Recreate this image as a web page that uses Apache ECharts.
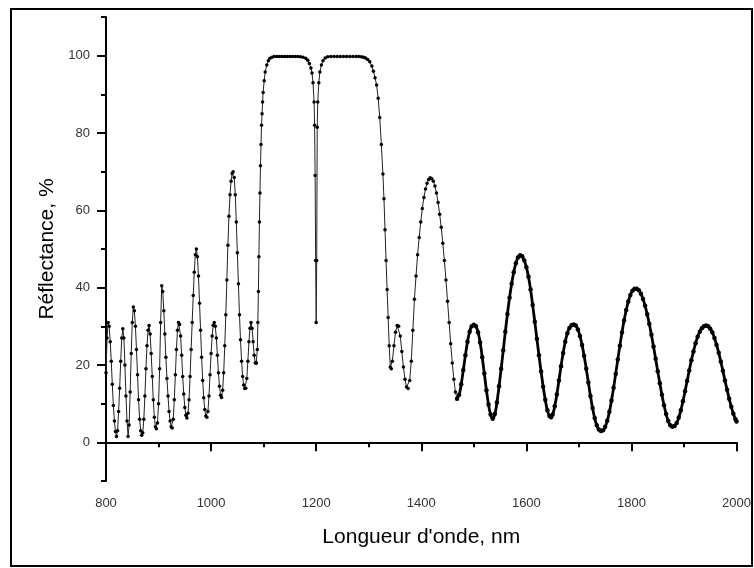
<!DOCTYPE html>
<html>
<head>
<meta charset="utf-8">
<script src="https://cdn.jsdelivr.net/npm/echarts@6/dist/echarts.min.js"></script>
<style>
	html, body {margin: 0; padding: 0; background: #fff;}
	#chart {width: 754px; height: 568px;}
</style>
</head>
<body>
<div id="chart"></div>
<script>
// [wavelength nm, reflectance %]
var shortSide = [
	[800,18],[802,27],[804,31],[806,30],[808,26],[810,21],[812,15],[814,9.5],[816,5.5],[818,2.8],[820,1.5],
	[822,3],[824,8],[826,14],[828,21],[830,27],[832,29.4],[834,27],[836,20],[838,12],[840,5.5],[842,1.5],
	[844,4.5],[846,13],[848,23],[850,31],[852,35],[854,34],[856,30],[858,24],[860,17.5],[862,11],[864,6],[866,3],[868,1.8],
	[870,2.5],[872,6],[874,12],[876,19],[878,25],[880,29],[882,30.2],[884,28],[886,23],[888,17],[890,11],[892,6.5],[894,4],[896,3.5],
	[898,5],[900,10],[902,19],[904,31],[906,40.5],[908,39],[910,34],[912,28],[914,22],[916,16.5],[918,12],[920,8],[922,5.5],[924,4],[926,3.7],
	[928,6],[930,11],[932,17.5],[934,24],[936,29],[938,31],[940,30.5],[942,27.5],[944,22.5],[946,17],[948,12.5],[950,9],[952,7],[954,6.3],
	[956,7.5],[958,11],[960,17],[962,24],[964,31],[966,38],[968,44],[970,48.5],[972,50],[974,48],[976,43],[978,36],[980,29],[982,22],[984,16],[986,11.5],[988,8.5],[990,6.8],[992,6.5],
	[994,8],[996,12],[998,17.5],[1000,23],[1002,27.5],[1004,30.3],[1006,31],[1008,30],[1010,27],[1012,22.5],[1014,18],[1016,14.5],[1018,12.2],[1020,11.6],
	[1022,13.5],[1024,18],[1026,25],[1028,33],[1030,42],[1032,51],[1034,58.5],[1036,64],[1038,67.5],[1040,69.5],[1042,70],[1044,68.5],[1046,64],[1048,57],[1050,49],[1052,41],[1054,33],[1056,26.5],[1058,21],[1060,17],[1062,14.8],[1064,13.9],[1066,14],
	[1068,16.5],[1070,21],[1072,26],[1074,29.5],[1076,31],[1078,29.5],[1080,26],[1082,22.5],[1084,20.5],[1086,20.5]
];

var stopBand = [
	[1086,20.5],[1088,24],[1089,31],[1090,39],[1091,48],[1092,57],[1093,64.5],[1094,71.5],[1095,77],[1096,82],[1097,85],[1098,88],[1099,90.5],
	[1101,93.5],[1103,95.8],[1106,97.6],[1109,98.7],[1112,99.3],[1116,99.6],[1120,99.8],[1125,99.8],[1130,99.8],[1135,99.8],[1140,99.8],[1145,99.8],
	[1150,99.8],[1155,99.8],[1160,99.8],[1165,99.8],[1170,99.7],[1175,99.6],[1180,99.3],[1184,98.8],[1187,98],[1190,96.8],[1192,95.5],[1194,93],
	[1196,88],[1197,82],[1198,69],[1199,47],[1200,31],[1201,47],[1202,81.5],[1203,88],[1205,93],[1207,95.8],[1210,97.6],[1213,98.7],[1217,99.4],
	[1222,99.7],[1228,99.8],[1234,99.8],[1240,99.8],[1246,99.8],[1252,99.8],[1258,99.8],[1264,99.8],[1270,99.8],[1276,99.8],[1281,99.8],[1286,99.7],
	[1290,99.6],[1294,99.4],[1298,99],[1302,98.4],[1306,97.3],[1309,96],[1312,94.3],[1315,92.4],[1318,89],[1321,84],[1324,77],[1327,69.4],
	[1329,63],[1331,55],[1333,47],[1335,39.5],[1337,32.3],[1339,25],[1341,19.5],[1343,19],[1345,21],[1348,25],[1351,28.5],[1354,30.2],[1357,30],
	[1360,27.5],[1363,23.5],[1366,19.5],[1369,16.3],[1372,14.3],[1375,13.9],[1378,16],[1381,21],[1384,29],[1387,37],[1390,43],[1393,48.5],
	[1396,53],[1399,57],[1402,60.5],[1405,63.3],[1408,65.5],[1411,67],[1414,68],[1417,68.4],[1420,68.2],[1423,67.5],[1426,66.3],[1429,64.5],
	[1432,62],[1435,59],[1438,55.6],[1441,51.5],[1444,47],[1447,42],[1450,36.5],[1453,31],[1456,25.5],[1459,20.5],[1462,16.3],[1465,13],[1468,11.3]
];

var longSide = [
	[1468,11.3],[1472,12.3],[1476,15],[1480,18.7],[1484,22.5],[1488,26],[1492,28.6],[1496,30],[1500,30.4],
	[1504,30],[1508,28.5],[1512,25.8],[1516,22],[1520,17.8],[1524,13.5],[1528,9.8],[1532,7.2],[1536,6.1],
	[1540,7.3],[1544,10.3],[1548,14.5],[1552,19],[1556,23.8],[1560,28.6],[1564,33.2],[1568,37.4],[1572,41],[1576,44],[1580,46.3],[1584,47.8],[1588,48.4],
	[1592,48.1],[1596,47],[1600,45.3],[1604,42.8],[1608,39.5],[1612,35.5],[1616,31.2],[1620,26.8],[1624,22.5],[1628,18.3],[1632,14.4],[1636,11],[1640,8.3],[1644,6.8],[1647,6.5],
	[1650,7.2],[1654,9.3],[1658,12.4],[1662,16],[1666,19.7],[1670,23.1],[1674,26],[1678,28.2],[1682,29.6],[1686,30.3],[1690,30.5],
	[1694,30.2],[1698,29.2],[1702,27.5],[1706,25.2],[1710,22.3],[1714,19],[1718,15.5],[1722,12],[1726,8.9],[1730,6.3],[1734,4.4],[1738,3.3],[1742,2.9],[1746,3.1],
	[1750,4],[1754,5.6],[1758,7.9],[1762,10.8],[1766,14.1],[1770,17.7],[1774,21.4],[1778,25],[1782,28.4],[1786,31.5],[1790,34.2],[1794,36.4],[1798,38.1],[1802,39.2],[1806,39.7],[1810,39.7],
	[1814,39.3],[1818,38.4],[1822,37.1],[1826,35.3],[1830,33.1],[1834,30.6],[1838,27.8],[1842,24.8],[1846,21.6],[1850,18.4],[1854,15.3],[1858,12.3],[1862,9.6],[1866,7.3],[1870,5.5],[1874,4.4],[1878,4],[1882,4.2],
	[1886,5],[1890,6.4],[1894,8.3],[1898,10.6],[1902,13.2],[1906,15.9],[1910,18.6],[1914,21.2],[1918,23.5],[1922,25.6],[1926,27.3],[1930,28.6],[1934,29.5],[1938,30],[1942,30.2],
	[1946,30],[1950,29.4],[1954,28.4],[1958,27],[1962,25.2],[1966,23.2],[1970,20.9],[1974,18.5],[1978,16],[1982,13.6],[1986,11.3],[1990,9.2],[1994,7.4],[1998,6],[2000,5.4]
];

var yMajor = [0, 20, 40, 60, 80, 100];
var yMinor = [-10, 10, 30, 50, 70, 90, 110];

var chart = echarts.init(document.getElementById('chart'), null, {renderer: 'canvas'});

var labelFont = {color: '#333', fontSize: 13, fontFamily: 'Liberation Sans'};
var nameFont = {color: '#000', fontSize: 21, fontFamily: 'Liberation Sans'};

function plain(v){
	return String(v);
}

var option = {
	animation: false,
	backgroundColor: '#fff',
	grid: {left: 106, right: 17, top: 17, bottom: 87},
	graphic: [{
		type: 'rect',
		shape: {x: 11, y: 9, width: 741, height: 557},
		style: {fill: 'none', stroke: '#000', lineWidth: 2}
	}],
	xAxis: {
		type: 'value',
		min: 800,
		max: 2000,
		interval: 200,
		name: "Longueur d'onde, nm",
		nameLocation: 'middle',
		nameGap: 46,
		nameTextStyle: nameFont,
		axisLine: {lineStyle: {color: '#000', width: 2}},
		axisTick: {length: 9, lineStyle: {color: '#000', width: 2}},
		minorTick: {show: true, splitNumber: 2, length: 5, lineStyle: {color: '#000', width: 2}},
		axisLabel: Object.assign({margin: 16, formatter: plain}, labelFont),
		splitLine: {show: false}
	},
	yAxis: [
		{
			type: 'value',
			min: -10,
			max: 110,
			name: 'Réflectance, %',
			nameLocation: 'middle',
			nameGap: 48,
			nameTextStyle: nameFont,
			axisLine: {show: true, lineStyle: {color: '#000', width: 2}},
			axisTick: {show: true, length: 9, customValues: yMajor, lineStyle: {color: '#000', width: 2}},
			axisLabel: Object.assign({margin: 16, customValues: yMajor, formatter: plain}, labelFont),
			splitLine: {show: false}
		},
		{
			// minor ticks only
			type: 'value',
			position: 'left',
			min: -10,
			max: 110,
			axisLine: {show: false},
			axisTick: {show: true, length: 5, customValues: yMinor, lineStyle: {color: '#000', width: 2}},
			axisLabel: {show: false},
			splitLine: {show: false}
		}
	],
	series: [
		{
			type: 'line',
			data: shortSide,
			symbol: 'circle',
			symbolSize: 3.5,
			itemStyle: {color: '#000'},
			lineStyle: {color: '#222', width: 1}
		},
		{
			type: 'line',
			data: stopBand,
			symbol: 'circle',
			symbolSize: 3.5,
			itemStyle: {color: '#000'},
			lineStyle: {color: '#222', width: 1}
		},
		{
			type: 'line',
			data: longSide,
			smooth: true,
			symbol: 'circle',
			symbolSize: 4.5,
			itemStyle: {color: '#000'},
			lineStyle: {color: '#000', width: 2.8}
		}
	]
};
chart.setOption(option);
</script>
</body>
</html>
